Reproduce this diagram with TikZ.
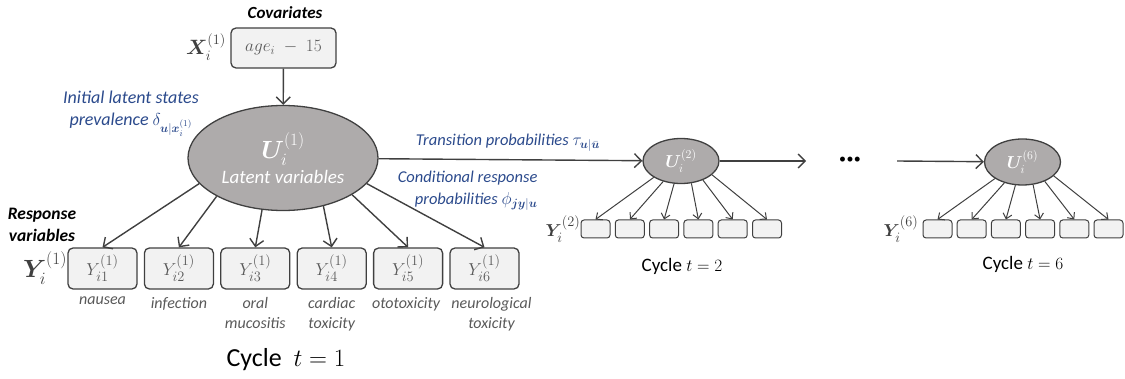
\documentclass[tikz,border=0pt]{standalone}
\usepackage{amsmath,bm}
\usepackage{fontspec}
\setmainfont{Carlito}
\usetikzlibrary{shapes.geometric,arrows.meta}

\definecolor{edge}{HTML}{404040}
\definecolor{latentfill}{HTML}{AEABAB}
\definecolor{boxfill}{HTML}{F2F2F2}
\definecolor{probblue}{HTML}{2B4A8C}
\definecolor{labgray}{HTML}{595959}

\tikzset{
    latent/.style={ellipse, draw=edge, fill=latentfill, line width=1.3pt, inner sep=0pt, text=white},
    obsbox/.style={draw=edge, fill=boxfill, rounded corners=5pt, line width=1.3pt,
        minimum width=69, minimum height=41, inner sep=0pt, text=labgray},
    smallbox/.style={draw=edge, fill=boxfill, rounded corners=3pt, line width=1pt,
        minimum width=29, minimum height=18, inner sep=0pt},
    arr/.style={draw=edge, line width=1.4pt, -{Straight Barb[length=7pt,width=14pt]}},
    smallarr/.style={draw=edge, line width=1pt, -{Straight Barb[length=5pt,width=9pt]}},
    prob/.style={text=probblue, font=\fontsize{16.5}{22}\selectfont\itshape},
    symptom/.style={text=labgray, font=\fontsize{16}{20}\selectfont\itshape, align=center}
}

\begin{document}
\begin{tikzpicture}[x=1pt,y=-1pt]
            \useasboundingbox (0,0) rectangle (1125,379);

            \node (cov) at (285,13) {\fontsize{17}{19}\selectfont\bfseries\itshape Covariates};
            \node[obsbox, minimum width=105, minimum height=40] (X) at (283.5,48) {\fontsize{18}{20}\selectfont $age_i\;-\;15$};
            \node[text=edge] (Xlab) at (206,47) {\fontsize{22}{24}\selectfont $\bm{X}_i^{(1)}$};

            \node[latent, minimum width=190, minimum height=105, align=center] (U1) at (283,158)
                {\fontsize{27}{27}\selectfont $\bm{U}_i^{(1)}$\\[4pt]\fontsize{19}{20}\selectfont\itshape Latent variables};
            \draw[arr] (X) -- (U1);

            \node[prob, align=center, font=\fontsize{18}{22}\selectfont\itshape] (init) at (131,114) {Initial latent states\\prevalence $\delta_{\bm{u}|\bm{x}_i^{(1)}}$};

            \node[align=center, font=\fontsize{17.5}{22}\selectfont\bfseries\itshape] (resp) at (42,225) {Response\\variables};
            \node[text=edge] (Ylab) at (45,268) {\fontsize{24}{26}\selectfont $\bm{Y}_i^{(1)}$};

            \foreach \k/\lab/\dx in {1/nausea/0, 2/infection/0, 3/{oral\\mucositis}/0, 4/{cardiac\\toxicity}/0, 5/ototoxicity/-2, 6/{neurological\\toxicity}/7}
                {
                    \node[obsbox] (y\k) at ({102.5+76.4*(\k-1)},268.5) {\fontsize{19}{21}\selectfont $Y_{i\k}^{(1)}$};
                    \node[symptom, anchor=north, yshift=-4pt, xshift=\dx pt] (s\k) at (y\k.south) {\lab};
                }
            \foreach \k/\a in {1/197, 2/210, 3/248, 4/310, 5/332, 6/343}
                \draw[arr] (U1.\a) -- (y\k.north);

            \node (cyc1) at (286,360) {\fontsize{26}{28}\selectfont Cycle\ \ $t=1$};

            \node[latent, minimum width=76, minimum height=45] (U2) at (681,161) {\fontsize{18}{18}\selectfont $\bm{U}_i^{(2)}$};
            \draw[arr] (U1) -- (U2);
            \node[prob] (trans) at (508,143) {Transition probabilities $\tau_{\bm{u}|\bar{\bm{u}}}$};
            \node[prob, align=right, anchor=east] (cond) at (541,191) {Conditional response\\probabilities $\phi_{\bm{jy}|\bm{u}}$};

            \foreach \k/\a in {1/211, 2/229, 3/253, 4/295, 5/319, 6/336}
                {
                    \node[smallbox] (p\k) at ({595.5+34.3*(\k-1)},229) {};
                    \draw[smallarr] (U2.\a) -- (p\k.north);
                }
            \node[text=edge] (Y2lab) at (563,229) {\fontsize{19}{21}\selectfont $\bm{Y}_i^{(2)}$};
            \node (cyc2) at (682,266) {\fontsize{19}{21}\selectfont Cycle $t=2$};

            \coordinate (d1) at (806,161);
            \node (dots) at (850,160) {\fontsize{14}{14}\selectfont\textbullet\hspace{0.5pt}\textbullet\hspace{0.5pt}\textbullet};
            \coordinate (d6) at (897,161);
            \draw[arr] (U2) -- (d1);

            \node[latent, minimum width=76, minimum height=46] (U6) at (1022.5,162) {\fontsize{18}{18}\selectfont $\bm{U}_i^{(6)}$};
            \draw[arr] (d6) -- (U6);

            \foreach \k/\a in {1/211, 2/229, 3/253, 4/295, 5/319, 6/336}
                {
                    \node[smallbox] (q\k) at ({937.5+34.2*(\k-1)},229) {};
                    \draw[smallarr] (U6.\a) -- (q\k.north);
                }
            \node[text=edge] (Y6lab) at (901,229) {\fontsize{19}{21}\selectfont $\bm{Y}_i^{(6)}$};
            \node (cyc6) at (1023,264) {\fontsize{19}{21}\selectfont Cycle $t=6$};

        \end{tikzpicture}
\end{document}
